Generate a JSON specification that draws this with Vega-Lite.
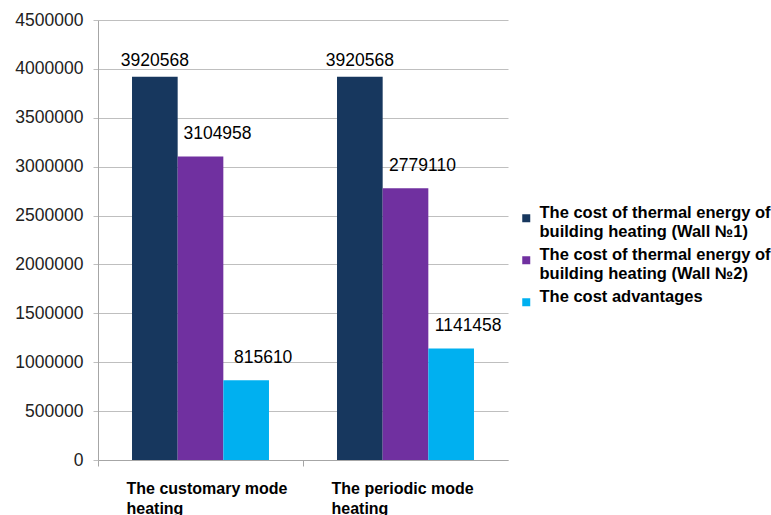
{
  "$schema": "https://vega.github.io/schema/vega-lite/v6.json",
  "autosize": {"type": "none"},
  "padding": {"left": 98, "top": 20, "right": 263, "bottom": 55},
  "width": 410,
  "height": 440,
  "background": "white",
  "config": {
    "font": "Liberation Sans",
    "view": {"stroke": null}
  },
  "data": {
    "values": [
      {"mode": "The customary mode heating", "series": "The cost of thermal energy of building heating (Wall №1)", "value": 3920568},
      {"mode": "The customary mode heating", "series": "The cost of thermal energy of building heating (Wall №2)", "value": 3104958},
      {"mode": "The customary mode heating", "series": "The cost advantages", "value": 815610},
      {"mode": "The periodic mode heating", "series": "The cost of thermal energy of building heating (Wall №1)", "value": 3920568},
      {"mode": "The periodic mode heating", "series": "The cost of thermal energy of building heating (Wall №2)", "value": 2779110},
      {"mode": "The periodic mode heating", "series": "The cost advantages", "value": 1141458}
    ]
  },
  "encoding": {
    "x": {
      "field": "mode", "type": "nominal", "sort": null,
      "scale": {"paddingInner": 0, "paddingOuter": 0},
      "axis": {
        "title": null, "labelAngle": 0, "bandPosition": 0,
        "labelAlign": "left", "labelBaseline": "top", "labelOffset": -74,
        "labelPadding": 14, "labelFontSize": 16, "labelFontWeight": "bold",
        "labelColor": "#000000", "labelLineHeight": 20,
        "labelExpr": "indexof(datum.label,' heating')>0 ? [substring(datum.label,0,indexof(datum.label,' heating')), 'heating'] : datum.label",
        "domainColor": "#a6a6a6", "tickColor": "#a6a6a6", "tickSize": 6, "grid": false
      }
    },
    "xOffset": {
      "field": "series", "type": "nominal",
      "sort": ["The cost of thermal energy of building heating (Wall №1)", "The cost of thermal energy of building heating (Wall №2)", "The cost advantages"],
      "scale": {"paddingInner": 0, "paddingOuter": 0.745}
    },
    "y": {
      "field": "value", "type": "quantitative",
      "scale": {"domain": [0, 4500000]},
      "axis": {
        "title": null, "values": [0, 500000, 1000000, 1500000, 2000000, 2500000, 3000000, 3500000, 4000000, 4500000],
        "format": "d", "labelFontSize": 17.5, "labelColor": "#222222", "labelPadding": 10,
        "tickSize": 5, "tickColor": "#bfbfbf", "gridColor": "#bfbfbf", "domainColor": "#a6a6a6"
      }
    }
  },
  "layer": [
    {
      "mark": {"type": "bar"},
      "encoding": {
        "color": {
          "field": "series", "type": "nominal",
          "scale": {
            "domain": ["The cost of thermal energy of building heating (Wall №1)", "The cost of thermal energy of building heating (Wall №2)", "The cost advantages"],
            "range": ["#17375E", "#7030A0", "#00B0F0"]
          },
          "legend": {
            "title": null, "orient": "none", "legendX": 420, "legendY": 190,
            "symbolType": "square", "symbolSize": 64, "symbolStrokeWidth": 0,
            "labelFontSize": 16.5, "labelFontWeight": "bold", "labelColor": "#000000",
            "labelLimit": 300, "labelBaseline": "alphabetic", "labelOffset": 5, "labelLineHeight": 21,
            "rowPadding": 6,
            "labelExpr": "indexof(datum.label,'building')>0 ? [substring(datum.label,0,indexof(datum.label,'building')-1), substring(datum.label,indexof(datum.label,'building'))] : datum.label"
          }
        }
      }
    },
    {
      "transform": [{"filter": "datum.series == 'The cost of thermal energy of building heating (Wall №1)'"}],
      "mark": {"type": "text", "baseline": "bottom", "dy": -7, "fontSize": 17.5, "color": "#000000"},
      "encoding": {"text": {"field": "value", "type": "quantitative", "format": "d"}}
    },
    {
      "transform": [{"filter": "datum.series != 'The cost of thermal energy of building heating (Wall №1)'"}],
      "mark": {"type": "text", "baseline": "bottom", "dy": -13, "dx": 17, "fontSize": 17.5, "color": "#000000"},
      "encoding": {"text": {"field": "value", "type": "quantitative", "format": "d"}}
    }
  ]
}
